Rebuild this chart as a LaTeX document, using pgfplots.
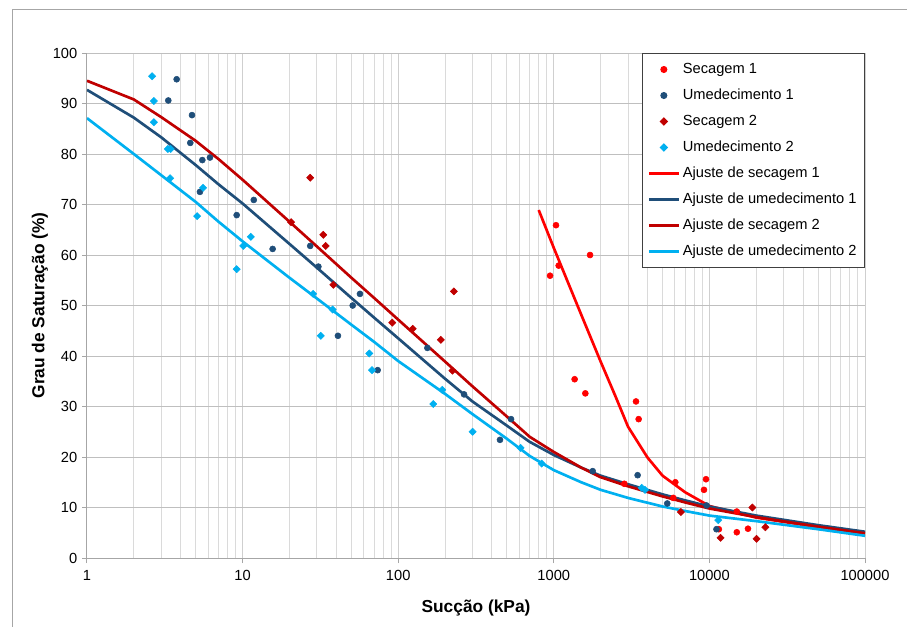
\documentclass[border=0pt]{standalone}
\usepackage{pgfplots}
\pgfplotsset{compat=1.18}
\usepackage{fontspec}
\setmainfont{Liberation Sans}
\definecolor{sec1}{HTML}{FF0000}
\definecolor{umd1}{HTML}{1F4E79}
\definecolor{sec2}{HTML}{C00000}
\definecolor{umd2}{HTML}{00B0F0}
\definecolor{gridmaj}{HTML}{BFBFBF}
\definecolor{gridx}{HTML}{CFCFCF}
\definecolor{gridmin}{HTML}{DADADA}
\definecolor{axgray}{HTML}{A6A6A6}
\definecolor{framec}{HTML}{A6A6A6}
\definecolor{legdraw}{HTML}{404040}
\begin{document}
\begin{tikzpicture}
\useasboundingbox (0,0) rectangle (680.25pt,469.5pt);
\fill[white] (0,0) rectangle (680.25pt,469.5pt);
\draw[framec, line width=0.75pt] (9pt,-1pt) -- (9pt,462pt) -- (682pt,462pt);
\begin{axis}[
  at={(65.25pt,51pt)}, anchor=south west,
  scale only axis, width=583.5pt, height=378.75pt,
  xmode=log, xmin=1, xmax=100000, ymin=0, ymax=100,
  xtick={1,10,100,1000,10000,100000},
  xticklabels={1,10,100,1000,10000,100000},
  minor xtick={2,3,4,5,6,7,8,9,20,30,40,50,60,70,80,90,200,300,400,500,600,700,800,900,2000,3000,4000,5000,6000,7000,8000,9000,20000,30000,40000,50000,60000,70000,80000,90000},
  ytick={0,10,...,100},
  axis x line=bottom, axis y line=left,
  axis line style={-, draw=axgray, line width=0.75pt},
  tick align=outside, major tick length=3.75pt, minor tick length=0pt,
  tick style={draw=axgray, line width=0.75pt},
  xmajorgrids, xminorgrids, ymajorgrids,
  major grid style={draw=gridx, line width=0.75pt},
  minor grid style={draw=gridmin, line width=0.75pt},
  y grid style={draw=gridmaj, line width=0.75pt},
  /pgf/number format/assume math mode=true,
  tick label style={font=\fontsize{11}{13}\selectfont, black},
  xticklabel style={yshift=-2pt},
  xlabel={Sucção (kPa)}, ylabel={Grau de Saturação (\%)},
  every axis x label/.style={at={(axis description cs:0.5,-0.099)}, anchor=center, font=\bfseries\fontsize{13}{15}\selectfont},
  every axis y label/.style={at={(axis description cs:-0.0604,0.5)}, rotate=90, anchor=center, font=\bfseries\fontsize{13}{15}\selectfont},
  legend style={at={(1,1)}, anchor=north east, draw=legdraw, line width=0.75pt, fill=white,
    font=\fontsize{11}{13}\selectfont, inner xsep=4pt, inner ysep=2.25pt, row sep=0pt,
    nodes={inner xsep=2pt, inner ysep=0pt, minimum height=19.5pt}},
  legend cell align=left,
  legend image code/.code={\draw[mark repeat=2,mark phase=2,#1] plot coordinates {(0pt,0pt)(11.25pt,0pt)(22.5pt,0pt)};},
]
% Secagem 1
\addplot[only marks, mark=*, mark size=2.25pt, color=sec1] coordinates {
(1033,65.9) (1710,60.0) (1075,57.9) (946,55.9) (1361,35.4) (1595,32.6) (3375,31.0) (3510,27.5)
(2840,14.7) (6040,15.0) (5860,11.9) (9510,15.6) (9230,13.5) (15000,9.2) (11500,5.7) (15000,5.1) (17700,5.8)};
\addlegendentry{Secagem 1}
% Umedecimento 1
\addplot[only marks, mark=*, mark size=2.25pt, color=umd1] coordinates {
(3.77,94.8) (3.33,90.6) (4.73,87.7) (4.61,82.2) (5.51,78.8) (6.17,79.3) (5.32,72.5) (9.16,67.9)
(11.8,70.9) (15.6,61.2) (27.2,61.8) (30.7,57.7) (51.0,50.0) (56.8,52.3) (41.0,44.0) (73.8,37.2)
(154,41.6) (265,32.4) (451,23.4) (531,27.5) (1778,17.2) (3457,16.4) (5360,10.8) (9590,10.4) (11100,5.7)};
\addlegendentry{Umedecimento 1}
% Secagem 2
\addplot[only marks, mark=square*, mark size=1.9pt, mark options={rotate=45}, color=sec2] coordinates {
(27.2,75.3) (20.5,66.5) (33.0,64.0) (34.2,61.8) (38.3,54.1) (91.6,46.6) (124,45.4) (188,43.2)
(228,52.8) (223,37.1) (6560,9.1) (11800,4.0) (18900,10.0) (20100,3.8) (22900,6.1)};
\addlegendentry{Secagem 2}
% Umedecimento 2
\addplot[only marks, mark=square*, mark size=1.9pt, mark options={rotate=45}, color=umd2] coordinates {
(2.62,95.4) (2.69,90.5) (2.69,86.3) (3.31,81.0) (3.45,81.0) (3.42,75.2) (5.1,67.7) (5.57,73.3)
(9.16,57.2) (10.1,61.8) (11.3,63.6) (28.4,52.3) (31.8,44.0) (37.9,49.2) (65.2,40.5) (67.9,37.2)
(168,30.5) (192,33.3) (301,25.0) (612,21.8) (836,18.7) (3670,13.9) (3855,13.5) (11400,7.5)};
\addlegendentry{Umedecimento 2}
% Ajuste de secagem 1
\addplot[sec1, line width=2pt, mark=none, line join=round] coordinates {
(800,68.9) (1000,61.4) (1500,48.2) (2000,38.9) (2500,31.9) (3000,26.0) (4000,19.9) (5000,16.3)
(7000,13.0) (10000,10.3) (20000,8.0) (50000,6.1) (100000,4.9)};
\addlegendentry{Ajuste de secagem 1}
% Ajuste de umedecimento 1
\addplot[umd1, line width=2pt, mark=none, line join=round] coordinates {
(1,92.7) (2,87.2) (3,83.3) (5,77.8) (7,74.0) (10,70.2) (20,62.2) (30,57.5) (50,51.5) (70,47.6)
(100,43.5) (200,35.5) (300,31.0) (500,26.2) (700,23.0) (1000,20.4) (1500,17.9) (2000,16.3) (3000,14.6)
(5000,12.6) (7000,11.4) (10000,10.2) (20000,8.4) (50000,6.5) (100000,5.2)};
\addlegendentry{Ajuste de umedecimento 1}
% Ajuste de secagem 2
\addplot[sec2, line width=2pt, mark=none, line join=round] coordinates {
(1,94.5) (2,90.8) (3,87.3) (5,82.6) (7,79.0) (10,74.9) (20,66.6) (30,61.7) (50,55.5) (70,51.5)
(100,47.2) (200,38.9) (300,34.0) (500,28.0) (700,24.0) (1000,21.0) (1500,17.9) (2000,16.0) (3000,14.2)
(5000,12.2) (7000,11.0) (10000,9.8) (20000,8.1) (50000,6.2) (100000,4.9)};
\addlegendentry{Ajuste de secagem 2}
% Ajuste de umedecimento 2
\addplot[umd2, line width=2pt, mark=none, line join=round] coordinates {
(1,87.1) (2,80.0) (3,75.8) (5,70.5) (7,66.6) (10,62.7) (20,55.5) (30,51.4) (50,46.2) (70,42.8)
(100,39.0) (200,32.5) (300,28.5) (500,23.6) (700,20.2) (1000,17.4) (1500,15.0) (2000,13.5) (3000,11.9)
(5000,10.2) (7000,9.3) (10000,8.4) (20000,7.3) (50000,5.7) (100000,4.4)};
\addlegendentry{Ajuste de umedecimento 2}
\end{axis}
\end{tikzpicture}
\end{document}
